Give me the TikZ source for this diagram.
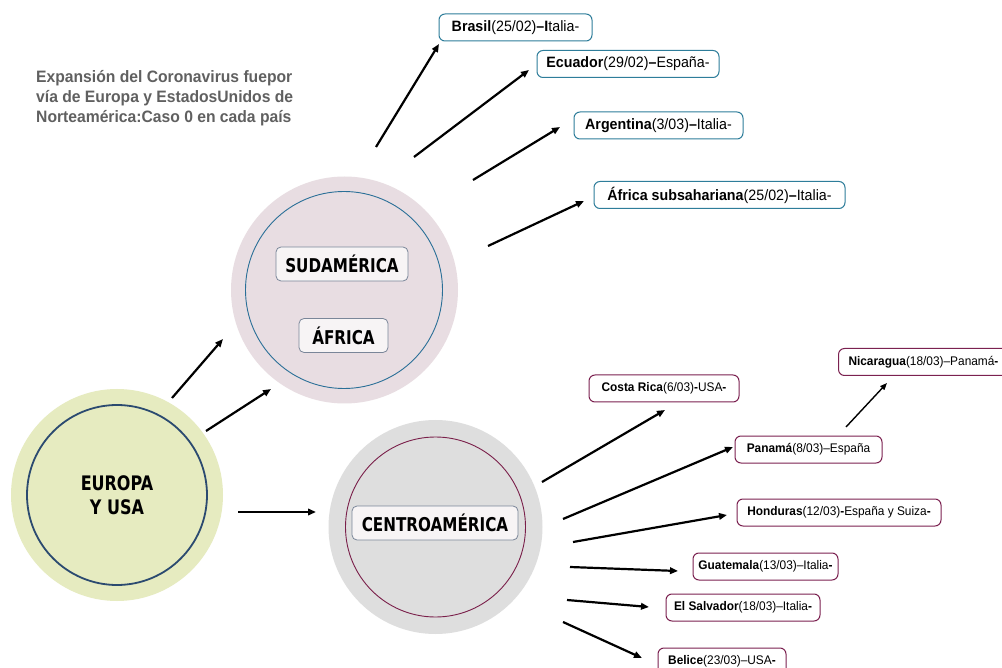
\documentclass[tikz,border=0pt]{standalone}
\usepackage{fontspec}
\setmainfont{Liberation Sans}
\newfontfamily\boxfont{Liberation Sans}[FakeStretch=0.95]
\newfontfamily\headfont{DejaVu Sans}[FakeStretch=0.8]
\usetikzlibrary{arrows.meta}
\definecolor{euFill}{HTML}{E6EBC0}
\definecolor{euLine}{HTML}{2B4A70}
\definecolor{saFill}{HTML}{E8DDE2}
\definecolor{saLine}{HTML}{2A6F97}
\definecolor{caFill}{HTML}{DEDEDE}
\definecolor{caLine}{HTML}{7A1F4A}
\definecolor{tealB}{HTML}{2E7D9A}
\definecolor{magB}{HTML}{7B2150}
\definecolor{headB}{HTML}{7A8699}
\definecolor{headFill}{HTML}{F7F4F5}
\definecolor{titleC}{HTML}{606060}
\tikzset{
  outerdisc/.style={circle, inner sep=0pt, draw=none},
  innerring/.style={circle, inner sep=0pt, fill=none},
  headbox/.style={draw=headB, fill=headFill, line width=0.8pt, rounded corners=5pt,
    inner sep=0pt, minimum height=34pt, font=\headfont\bfseries\fontsize{19}{21}\selectfont, text=black},
  tealbox/.style={draw=tealB, fill=white, line width=1pt, rounded corners=6pt,
    inner sep=0pt, minimum height=27pt, font=\boxfont\fontsize{15}{17}\selectfont, text=black},
  magbox/.style={draw=magB, fill=white, line width=1pt, rounded corners=6pt,
    inner sep=0pt, minimum height=27pt, font=\boxfont\fontsize{12.5}{14}\selectfont, text=black},
  arr/.style={-{Triangle[length=8pt,width=6.5pt]}, line width=2.2pt, black},
  thinarr/.style={-{Triangle[length=7pt,width=5.5pt]}, line width=1.4pt, black},
}
\begin{document}
\begin{tikzpicture}[x=1pt,y=-1pt]
\useasboundingbox (0,0) rectangle (1002,668);
\fill[white] (0,0) rectangle (1002,668);

% title
\node[anchor=north west, align=left, text=titleC, inner sep=0pt,
  font=\boxfont\bfseries\fontsize{16.5}{20}\selectfont] (title) at (36,70)
  {Expansión del Coronavirus fuepor\\vía de Europa y EstadosUnidos de\\Norteamérica:Caso 0 en cada país};

% circles
\node[outerdisc, fill=euFill, minimum size=212pt] (eu) at (117,495) {};
\node[innerring, draw=euLine, line width=1.8pt, minimum size=180pt] (eui) at (117,495) {};
\node[font=\headfont\bfseries\fontsize{20}{24}\selectfont, align=center] (eut) at (117,495) {EUROPA\\Y USA};

\node[outerdisc, fill=saFill, minimum size=227pt] (sa) at (344.5,290) {};
\node[innerring, draw=saLine, line width=0.9pt, minimum size=197pt] (sai) at (344,290) {};
\node[headbox, minimum width=132pt] (sud) at (342,264) {SUDAMÉRICA};
\node[headbox, minimum width=89pt] (afr) at (343.5,335.5) {ÁFRICA};

\node[outerdisc, fill=caFill, minimum size=214pt] (ca) at (435.5,527) {};
\node[innerring, draw=caLine, line width=0.9pt, minimum size=180pt] (cai) at (435.5,527) {};
\node[headbox, minimum width=166pt] (cen) at (435,523) {CENTROAMÉRICA};

% top boxes
\node[tealbox, minimum width=153pt] (bra) at (515.5,27.5) {\textbf{Brasil}(25/02)\textbf{–I}talia-};
\node[tealbox, minimum width=182pt] (ecu) at (628,64) {\textbf{Ecuador}(29/02)\textbf{–}España-};
\node[tealbox, minimum width=169pt] (arg) at (658.5,125.5) {\textbf{Argentina}(3/03)\textbf{–}Italia-};
\node[tealbox, minimum width=251pt] (afs) at (719.5,195) {\textbf{África subsahariana}(25/02)\textbf{–}Italia-};

% centro boxes
\node[magbox, minimum width=150pt] (cr) at (664,388.5) {\textbf{Costa Rica}(6/03)\textbf{-}USA\textbf{-}};
\node[magbox, anchor=west, inner xsep=10pt] (nic) at (838,362) {\textbf{Nicaragua}(18/03)–Panamá\textbf{-}};
\node[magbox, minimum width=147pt] (pan) at (808.5,449.5) {\textbf{Panamá}(8/03)–España};
\node[magbox, minimum width=204pt] (hon) at (839,512.5) {\textbf{Honduras}(12/03)\textbf{-}España y Suiza\textbf{-}};
\node[magbox, minimum width=145pt] (gua) at (765.5,566.5) {\textbf{Guatemala}(13/03)–Italia\textbf{-}};
\node[magbox, minimum width=154pt] (els) at (743,607.5) {\textbf{El Salvador}(18/03)–Italia\textbf{-}};
\node[magbox, minimum width=128pt] (bel) at (722,661.5) {\textbf{Belice}(23/03)–USA\textbf{-}};

% connector coordinates
\coordinate (s1) at (376,147); \coordinate (e1) at (439,44);
\coordinate (s2) at (414,157); \coordinate (e2) at (529,70);
\coordinate (s3) at (473,180); \coordinate (e3) at (560,127);
\coordinate (s4) at (488,246); \coordinate (e4) at (584,201);
\coordinate (s5) at (172,398); \coordinate (e5) at (223,339);
\coordinate (s6) at (206,431); \coordinate (e6) at (271,389);
\coordinate (s7) at (238,512); \coordinate (e7) at (316,512);
\coordinate (s8) at (542,482); \coordinate (e8) at (665,410);
\coordinate (s9) at (563,519); \coordinate (e9) at (733,447);
\coordinate (s10) at (573,542); \coordinate (e10) at (727,515);
\coordinate (s11) at (570,567); \coordinate (e11) at (678,571);
\coordinate (s12) at (567,600); \coordinate (e12) at (649,607);
\coordinate (s13) at (563,622); \coordinate (e13) at (642,658);
\coordinate (s14) at (846,427); \coordinate (e14) at (887,383);

\draw[arr] (s1) -- (e1);
\draw[arr] (s2) -- (e2);
\draw[arr] (s3) -- (e3);
\draw[arr] (s4) -- (e4);
\draw[arr] (s5) -- (e5);
\draw[arr] (s6) -- (e6);
\draw[arr] (s7) -- (e7);
\draw[arr] (s8) -- (e8);
\draw[arr] (s9) -- (e9);
\draw[arr] (s10) -- (e10);
\draw[arr] (s11) -- (e11);
\draw[arr] (s12) -- (e12);
\draw[arr] (s13) -- (e13);
\draw[thinarr] (s14) -- (e14);
\end{tikzpicture}
\end{document}
